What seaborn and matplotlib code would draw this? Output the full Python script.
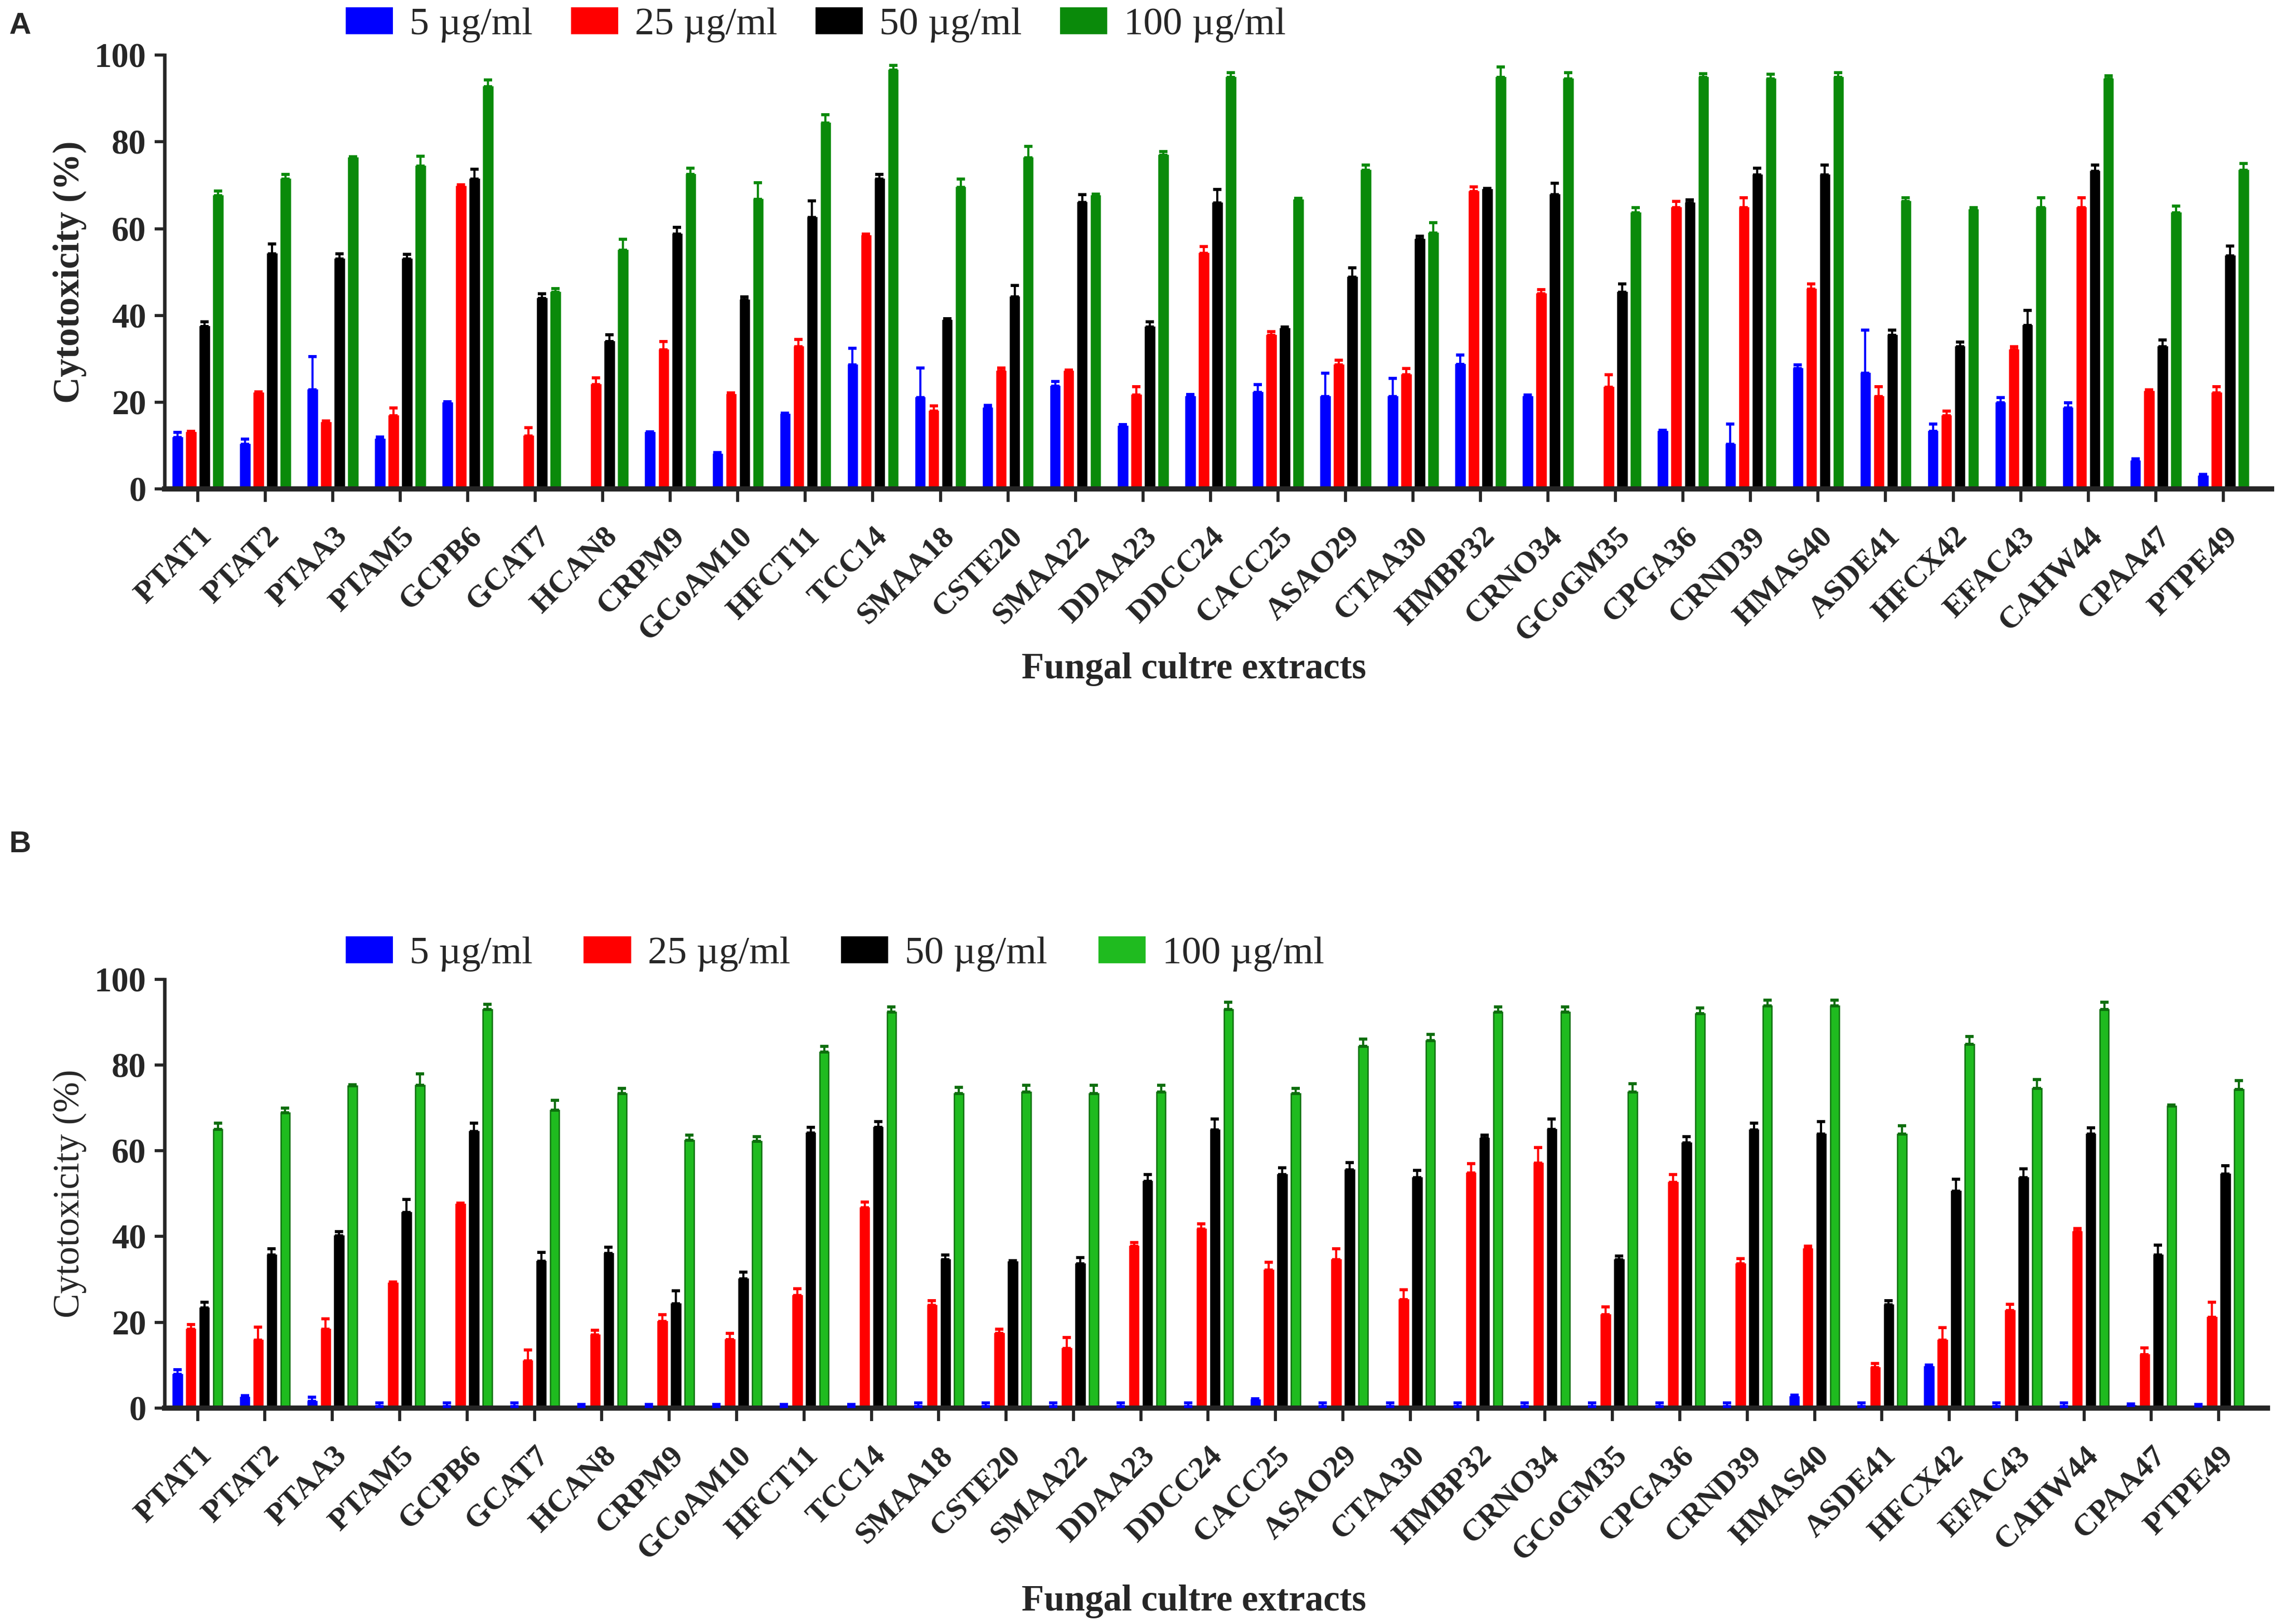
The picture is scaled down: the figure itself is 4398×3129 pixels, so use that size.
import numpy as np
import pandas as pd
import matplotlib
matplotlib.use("Agg")
import matplotlib.pyplot as plt
from matplotlib.container import BarContainer
import seaborn as sns

sns.set_theme(style="ticks")
plt.rcParams['font.family'] = ['Liberation Serif', 'DejaVu Serif']

extracts = ["PTAT1", "PTAT2", "PTAA3", "PTAM5", "GCPB6", "GCAT7", "HCAN8", "CRPM9",
            "GCoAM10", "HFCT11", "TCC14", "SMAA18", "CSTE20", "SMAA22", "DDAA23",
            "DDCC24", "CACC25", "ASAO29", "CTAA30", "HMBP32", "CRNO34", "GCoGM35",
            "CPGA36", "CRND39", "HMAS40", "ASDE41", "HFCX42", "EFAC43", "CAHW44",
            "CPAA47", "PTPE49"]
concs = ["5 µg/ml", "25 µg/ml", "50 µg/ml", "100 µg/ml"]

# Panel A
a_5 = [11.8, 10.3, 22.9, 11.5, 19.8, 0, 0, 13, 8, 17.2, 28.6, 21, 18.7, 23.7, 14.5, 21.3,
       22.3, 21.3, 21.3, 28.7, 21.3, 0, 13.3, 10.3, 27.8, 26.7, 13.3, 19.8, 18.7, 6.5, 3]
a_5_err = [1.2, 1.2, 7.6, 0.4, 0.3, 0, 0, 0.2, 0.3, 0.3, 3.8, 6.9, 0.5, 1.1, 0.3, 0.5,
           1.7, 5.4, 4.2, 2.2, 0.3, 0, 0.2, 4.6, 0.8, 9.9, 1.6, 1.2, 1.1, 0.4, 0.3]
a_25 = [13, 22.1, 15.3, 16.8, 69.8, 12.2, 24, 32, 21.8, 32.8, 58.4, 17.9, 27.1, 27.1, 21.7,
        54.3, 35.4, 28.6, 26.3, 68.6, 45, 23.4, 64.8, 64.8, 46.1, 21.3, 16.8, 32, 64.8, 22.5, 22.1]
a_25_err = [0.3, 0.3, 0.3, 1.9, 0.3, 1.9, 1.6, 2, 0.3, 1.6, 0.3, 1.2, 0.8, 0.3, 1.9, 1.6,
            0.9, 1.1, 1.5, 1.1, 1, 2.9, 1.5, 2.3, 1.2, 2.3, 1.1, 0.8, 2.3, 0.3, 1.5]
a_50 = [37.4, 54.2, 53, 53, 71.4, 43.9, 34, 58.8, 43.5, 62.6, 71.4, 38.9, 44.3, 66, 37.3,
        65.9, 37, 48.8, 57.5, 69, 67.8, 45.4, 65.9, 72.4, 72.4, 35.4, 32.8, 37.7, 73.2, 32.8, 53.7]
a_50_err = [1.1, 2.3, 1.2, 1.1, 2.3, 1.1, 1.5, 1.5, 0.8, 3.8, 1.1, 0.3, 2.6, 1.9, 1.2, 3.2,
            0.3, 2.2, 0.8, 0.3, 2.7, 1.9, 0.8, 1.5, 2.3, 1.2, 1.1, 3.5, 1.5, 1.5, 2.3]
a_100 = [67.6, 71.4, 76.3, 74.4, 92.7, 45.4, 55, 72.5, 66.8, 84.4, 96.6, 69.5, 76.3, 67.6, 77,
         94.9, 66.7, 73.5, 59, 94.9, 94.5, 63.6, 94.9, 94.5, 94.9, 66.3, 64.4, 64.8, 94.5, 63.6, 73.5]
a_100_err = [1.1, 1.1, 0.3, 2.3, 1.6, 0.8, 2.6, 1.5, 3.8, 1.9, 1.1, 1.9, 2.7, 0.4, 0.8, 1.1,
             0.3, 1.2, 2.4, 2.4, 1.5, 1.2, 0.8, 1.1, 1.1, 0.8, 0.4, 2.3, 0.8, 1.6, 1.5]

# Panel B
b_5 = [7.9, 2.5, 1.5, 0.3, 0.3, 0.3, 0.3, 0.3, 0.3, 0.3, 0.3, 0.3, 0.3, 0.3, 0.3, 0.3,
       1.9, 0.3, 0.3, 0.3, 0.3, 0.3, 0.3, 0.3, 2.7, 0.3, 9.7, 0.3, 0.3, 0.6, 0.5]
b_5_err = [1, 0.4, 1, 0.9, 0.9, 0.9, 0.5, 0.5, 0.5, 0.5, 0.5, 0.9, 0.9, 0.9, 0.9, 0.9,
           0.3, 0.9, 0.9, 0.9, 0.9, 0.9, 0.9, 0.9, 0.3, 0.9, 0.3, 0.9, 0.9, 0.3, 0.3]
b_25 = [18.4, 15.8, 18.4, 29.1, 47.5, 11, 17, 20.2, 16, 26.3, 46.7, 23.9, 17.4, 13.9, 37.8,
        41.7, 32.2, 34.6, 25.3, 54.8, 57.1, 21.8, 52.7, 33.6, 37.1, 9.4, 15.8, 22.8, 41.1, 12.4, 21.2]
b_25_err = [1.1, 3.1, 2.4, 0.3, 0.3, 2.5, 1.1, 1.6, 1.4, 1.5, 1.3, 1.2, 1, 2.5, 0.8, 1.2,
            1.8, 2.5, 2.3, 2.2, 3.7, 1.8, 1.7, 1.3, 0.7, 1, 2.9, 1.4, 0.8, 1.6, 3.5]
b_50 = [23.3, 35.7, 40.2, 45.6, 64.5, 34.2, 36.1, 24.3, 30.1, 64.1, 65.5, 34.6, 34.1, 33.6, 52.9,
        64.9, 54.4, 55.6, 53.7, 62.9, 65, 34.6, 61.9, 64.9, 63.9, 24.1, 50.6, 53.7, 63.9, 35.7, 54.6]
b_50_err = [1.4, 1.4, 0.9, 3, 1.9, 2.1, 1.4, 3.1, 1.6, 1.4, 1.3, 1.1, 0.3, 1.5, 1.5, 2.5,
            1.6, 1.7, 1.7, 0.8, 2.4, 0.9, 1.4, 1.5, 2.9, 1, 2.8, 2.1, 1.5, 2.3, 1.9]
b_100 = [65, 68.9, 75.1, 75.3, 93, 69.5, 73.4, 62.5, 62.2, 83, 92.3, 73.4, 73.7, 73.4, 73.7,
         93, 73.4, 84.3, 85.7, 92.3, 92.3, 73.7, 92, 93.8, 93.8, 63.9, 84.9, 74.5, 93, 70.4, 74.3]
b_100_err = [1.4, 1, 0.3, 2.7, 1.2, 2.3, 1.1, 1.2, 1.1, 1.4, 1.3, 1.4, 1.6, 1.9, 1.6, 1.6,
             1.1, 1.8, 1.4, 1.3, 1.3, 2, 1.3, 1.3, 1.3, 1.9, 1.7, 2.1, 1.6, 0.3, 2.1]

colors_a = ["#0000ff", "#ff0000", "#000000", "#0a8a0a"]
colors_b = ["#0000ff", "#ff0000", "#000000", "#1fbb1f"]
edges_b = ["#0000ff", "#ff0000", "#000000", "#0d6e0d"]


def long_df(series):
    rows = []
    for c, vals in zip(concs, series):
        for e, v in zip(extracts, vals):
            rows.append({"extract": e, "conc": c, "value": v})
    return pd.DataFrame(rows)


fig = plt.figure(figsize=(4398 / 300, 3129 / 300), dpi=300)
ax_a = fig.add_axes([0.0721, 0.699, 0.923, 0.267])
ax_b = fig.add_axes([0.0721, 0.133, 0.921, 0.264])

panels = [
    (ax_a, [a_5, a_25, a_50, a_100], [a_5_err, a_25_err, a_50_err, a_100_err], colors_a, colors_a,
     0.985, 0.95, "bold", 0.588, "A", 0.984),
    (ax_b, [b_5, b_25, b_50, b_100], [b_5_err, b_25_err, b_50_err, b_100_err], colors_b, edges_b,
     0.413, 1.28, "normal", 0.014, "B", 0.48),
]

bar_w = 0.135
for (ax, series, errs, cols, edges, leg_y, colsp, ylab_w, xlab_y, letter, let_y) in panels:
    df = long_df(series)
    sns.barplot(data=df, x="extract", y="value", hue="conc", hue_order=concs,
                order=extracts, palette=cols, width=0.8, errorbar=None,
                saturation=1, ax=ax)
    bar_conts = [c for c in ax.containers if isinstance(c, BarContainer)]
    for i, cont in enumerate(bar_conts):
        xs = []
        for p in cont.patches:
            cx = p.get_x() + p.get_width() / 2
            p.set_x(cx - bar_w / 2)
            p.set_width(bar_w)
            p.set_edgecolor(edges[i])
            p.set_linewidth(0.6)
            xs.append(cx)
        vals = np.array(series[i], dtype=float)
        err = np.array(errs[i], dtype=float)
        mask = vals > 0
        ax.errorbar(np.array(xs)[mask], vals[mask],
                    yerr=[np.zeros(mask.sum()), err[mask]],
                    fmt="none", ecolor=edges[i] if i == 3 else cols[i],
                    elinewidth=1.0, capsize=2.0, capthick=1.4, zorder=3)

    ax.set_ylim(0, 100)
    ax.set_xlim(-0.49, 30.72)
    ax.set_yticks([0, 20, 40, 60, 80, 100])
    for s in ["top", "right"]:
        ax.spines[s].set_visible(False)
    ax.spines["bottom"].set_linewidth(2.4)
    ax.spines["left"].set_linewidth(1.6)
    ax.tick_params(axis="x", length=6, width=1.4, direction="out", pad=9.5)
    ax.tick_params(axis="y", length=4.5, width=1.4, direction="out", pad=4)
    ax.set_xticks(range(len(extracts)))
    ax.set_xticklabels(extracts, rotation=45, ha="right", rotation_mode="anchor",
                       fontsize=14.5, fontweight="bold")
    for t in ax.get_yticklabels():
        t.set_fontsize(16)
        t.set_fontweight("bold")
    ax.set_xlabel("")
    ax.set_ylabel("Cytotoxicity (%)", fontsize=17, fontweight=ylab_w)
    ax.yaxis.set_label_coords(-0.037, 0.5)
    fig.text(0.523, xlab_y, "Fungal cultre extracts", ha="center", va="center",
             fontsize=17, fontweight="bold")
    fig.text(0.004, let_y, letter, ha="left", va="center", fontsize=14,
             fontweight="bold", family=["Liberation Sans", "DejaVu Sans"])

    handles, labels = ax.get_legend_handles_labels()
    if ax.get_legend() is not None:
        ax.get_legend().remove()
    ax.legend(handles[:4], labels[:4], ncol=4, loc="center left",
              bbox_to_anchor=(0.151, leg_y), bbox_transform=fig.transFigure,
              frameon=False, handlelength=1.27, handleheight=0.78,
              handletextpad=0.4, columnspacing=colsp, borderpad=0,
              borderaxespad=0, prop={"size": 18, "family": "Liberation Serif"})

fig.savefig("out.png", dpi=300)
